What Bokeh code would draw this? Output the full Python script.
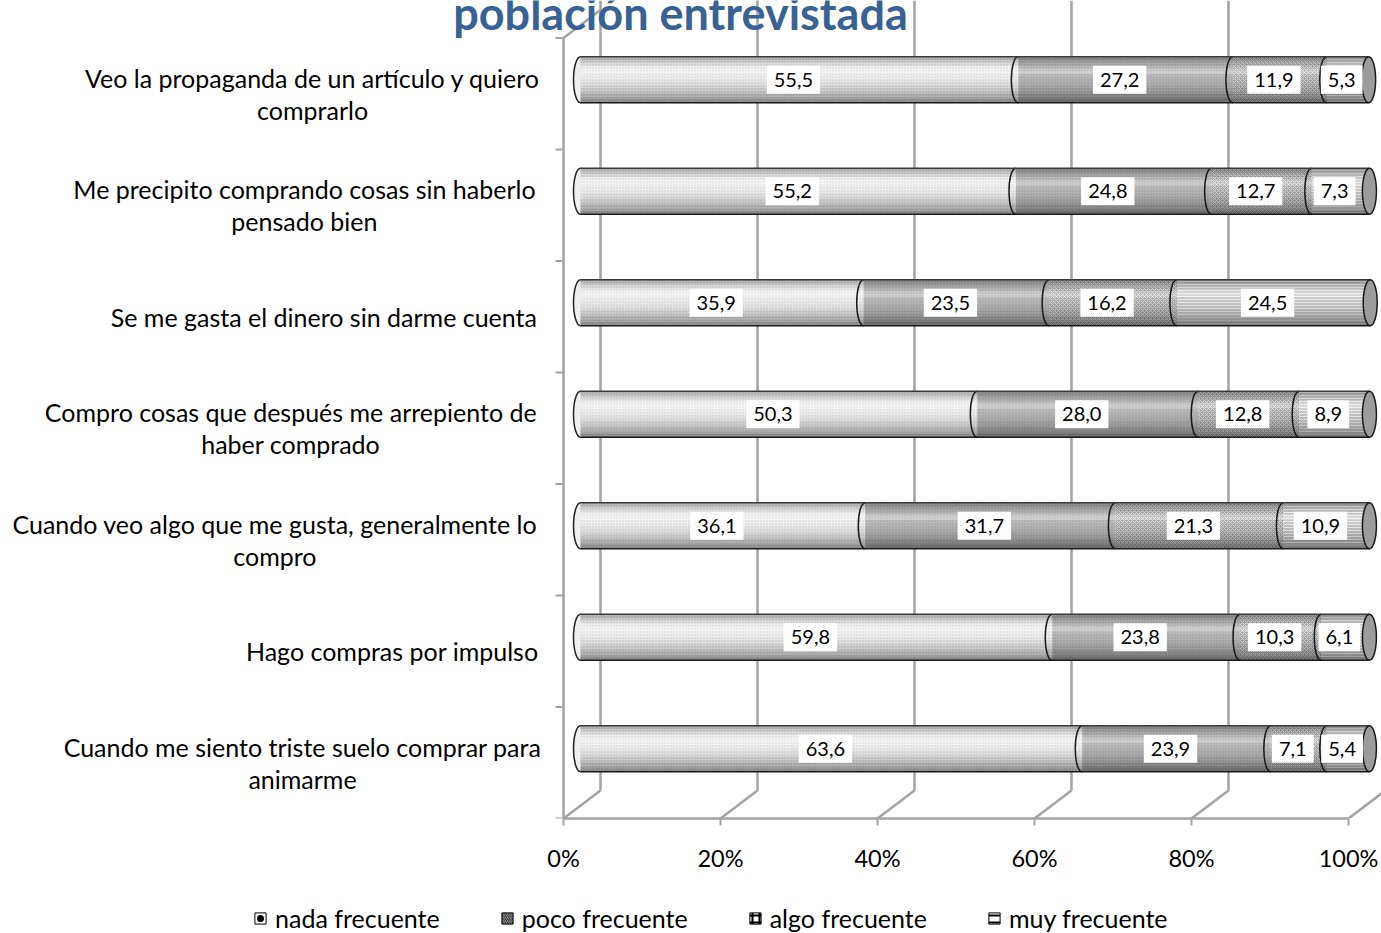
import numpy as np
from bokeh.plotting import figure
from bokeh.layouts import column
from bokeh.models import (Range1d, FixedTicker, PrintfTickFormatter, Legend, LegendItem)
from bokeh.embed import file_html
from bokeh.resources import INLINE
from bokeh.core.properties import value

# ---------------- data ----------------
categories = [
    "Veo la propaganda de un artículo y quiero\ncomprarlo",
    "Me precipito comprando cosas sin haberlo\npensado bien",
    "Se me gasta el dinero sin darme cuenta",
    "Compro cosas que después me arrepiento de\nhaber comprado",
    "Cuando veo algo que me gusta, generalmente lo\ncompro",
    "Hago compras por impulso",
    "Cuando me siento triste suelo comprar para\nanimarme",
]
nada = [55.5, 55.2, 35.9, 50.3, 36.1, 59.8, 63.6]
poco = [27.2, 24.8, 23.5, 28.0, 31.7, 23.8, 23.9]
algo = [11.9, 12.7, 16.2, 12.8, 21.3, 10.3, 7.1]
muy = [5.3, 7.3, 24.5, 8.9, 10.9, 6.1, 5.4]
series_names = ["nada frecuente", "poco frecuente", "algo frecuente", "muy frecuente"]
x_ticks = [0, 20, 40, 60, 80, 100]
title_text = "población entrevistada"

# ---------------- layout / style ----------------
FONT = "Lato"
GRID = "#a3a3a3"
W = 1381
HM, HL = 880, 53            # main figure / legend strip heights
ORIGIN_X = 563              # canvas px of 0 %
AXIS_H = 62                 # x-axis panel height
PX_X, PX_Y = 7.85, 111.5
frame_h = HM - AXIS_H
x_start = -ORIGIN_X / PX_X
x_end = (W - ORIGIN_X) / PX_X
y_end = frame_h / PX_Y
DEPTH_X, DEPTH_Y = 37 / PX_X, 28 / PX_Y
BAR_DX, BAR_DY = 17 / PX_X, 14 / PX_Y
BAR_SCALE = 1.005
BAR_H = 46 / PX_Y
CAP_W = 14
CAT_SIZE = 25


def text_width(s, size):
    """Rough advance width of a string in the label font (em-based classes)."""
    em = 0.0
    for ch in s:
        if ch == " ":
            em += 0.193
        elif ch in "iljtfrí,.":
            em += 0.26
        elif ch in "mwMW":
            em += 0.80
        else:
            em += 0.56
    return em * size


n = len(categories)
centers = [n - 0.5 - i for i in range(n)]
bar_y = np.array([c + BAR_DY for c in centers])

p = figure(width=W, height=HM, x_range=Range1d(x_start, x_end), y_range=Range1d(0, y_end),
           output_backend="svg", toolbar_location=None, y_axis_location=None,
           min_border_left=0, min_border_right=0, min_border_top=0,
           min_border_bottom=AXIS_H)
p.outline_line_color = None
p.grid.visible = False

# 3D walls
bx = [t + DEPTH_X for t in x_ticks]
p.segment(x0=bx, y0=[DEPTH_Y] * len(bx), x1=bx, y1=[y_end] * len(bx),
          line_color=GRID, line_width=2.5)
p.segment(x0=x_ticks, y0=[0] * len(bx), x1=bx, y1=[DEPTH_Y] * len(bx),
          line_color=GRID, line_width=2.5)
p.segment(x0=[0], y0=[n], x1=[DEPTH_X], y1=[n + DEPTH_Y], line_color=GRID, line_width=2.5)

# category axis (front-left edge) with ticks between categories
p.segment(x0=[0], y0=[0], x1=[0], y1=[n], line_color=GRID, line_width=2.5)
bounds = list(range(n + 1))
p.segment(x0=[-8 / PX_X] * len(bounds), y0=bounds, x1=[0] * len(bounds), y1=bounds,
          line_color=GRID, line_width=2)

# category labels: block right-aligned, lines centred
label_right = -26 / PX_X
cat_x = [label_right - max(text_width(s, CAT_SIZE) for s in c.split("\n")) / 2 / PX_X
         for c in categories]
p.text(x=cat_x, y=centers, text=categories, text_align="center", text_baseline="middle",
       text_font=value(FONT), text_font_size=f"{CAT_SIZE}px", text_color="black",
       text_line_height=1.08)

# x axis
xa = p.xaxis[0]
xa.ticker = FixedTicker(ticks=x_ticks)
xa.formatter = PrintfTickFormatter(format="%d%%")
xa.bounds = (0, 100)
xa.axis_line_color = GRID
xa.axis_line_width = 2.5
xa.major_tick_line_color = GRID
xa.major_tick_line_width = 2
xa.major_tick_out = 7
xa.major_tick_in = 0
xa.minor_tick_line_color = None
xa.major_label_text_font = FONT
xa.major_label_text_font_size = "23.5px"
xa.major_label_text_color = "black"
xa.major_label_standoff = 18

# cylinders
series = [nada, poco, algo, muy]
seg_styles = [
    dict(fill_color="#efefef", hatch_pattern=".", hatch_color="#cfcfcf", hatch_scale=3, hatch_weight=1),
    dict(fill_color="#b8b8b8", hatch_pattern=".", hatch_color="#a0a0a0", hatch_scale=3, hatch_weight=1),
    dict(fill_color="#a6a6a6", hatch_pattern="x", hatch_color="#d8d8d8", hatch_scale=4, hatch_weight=1),
    dict(fill_color="#c6c6c6", hatch_pattern="-", hatch_color="#ececec", hatch_scale=3, hatch_weight=1),
]
top = bar_y + BAR_H / 2
bot = bar_y - BAR_H / 2


def bx_(v):
    return BAR_DX + np.asarray(v) * BAR_SCALE


p.ellipse(x=[BAR_DX] * n, y=bar_y, width=CAP_W, height=BAR_H, width_units="screen",
          height_units="data", fill_color="#efefef", line_color="#222222", line_width=1.5)

lefts = np.zeros(n)
label_x, label_y, label_t = [], [], []
boundaries = []
for s, st in zip(series, seg_styles):
    s = np.array(s)
    rights = lefts + s
    p.hbar(y=bar_y, left=bx_(lefts), right=bx_(rights), height=BAR_H,
           line_color=None, **st)
    label_x += list(bx_(lefts + s / 2))
    label_y += list(bar_y)
    label_t += [f"{v:.1f}".replace(".", ",") for v in s]
    boundaries.append(rights.copy())
    lefts = rights
totals = lefts

# shading overlay (cylinder lighting)
NB = 16
sy, sl, sr, sc, sa = [], [], [], [], []
for k in range(NB):
    t = (k + 0.5) / NB
    if t < 0.22:
        c, a = "black", 0.28 * (1 - t / 0.22)
    elif t < 0.42:
        c, a = "white", 0.40 * (1 - abs(t - 0.32) / 0.10)
    else:
        c, a = "black", 0.42 * ((t - 0.42) / 0.58) ** 1.6
    for i in range(n):
        sy.append(top[i] - (k + 0.5) * BAR_H / NB)
        sl.append(BAR_DX)
        sr.append(bx_(totals[i]))
        sc.append(c)
        sa.append(max(a, 0))
p.hbar(y=sy, left=sl, right=sr, height=BAR_H / NB * 1.02, fill_color=sc, fill_alpha=sa,
       line_color=None)

# segment boundaries (elliptic arcs)
kk = 4 / 3 * (CAP_W / 2) / PX_X
for b in boundaries[:-1]:
    xb = bx_(b)
    p.bezier(x0=xb, y0=top, x1=xb, y1=bot, cx0=xb - kk, cy0=top, cx1=xb - kk, cy1=bot,
             line_color="#1a1a1a", line_width=1.5)

p.segment(x0=[BAR_DX] * n, y0=top, x1=bx_(totals), y1=top, line_color="#3a3a3a", line_width=1.5)
p.segment(x0=[BAR_DX] * n, y0=bot, x1=bx_(totals), y1=bot, line_color="#1a1a1a", line_width=1.5)

p.ellipse(x=bx_(totals), y=bar_y, width=CAP_W, height=BAR_H, width_units="screen",
          height_units="data", fill_color="#9c9c9c", line_color="#1a1a1a", line_width=1.5)

# data labels
p.text(x=label_x, y=label_y, text=label_t, x_offset=-6, text_align="center",
       text_baseline="middle", text_font=value(FONT), text_font_size="20px",
       text_color="black", background_fill_color="white", padding=7)

# title (top is cut off, as in the original)
p.text(x=[(680 - ORIGIN_X) / PX_X], y=[(frame_h - 12.5) / PX_Y], text=[title_text],
       text_font=value(FONT), text_font_style="bold", text_font_size="45px",
       text_color="#386294", text_align="center", text_baseline="alphabetic")

# legend strip
pl = figure(width=W, height=HL, x_range=Range1d(0, 1), y_range=Range1d(0, 1),
            output_backend="svg", toolbar_location=None, x_axis_location=None,
            y_axis_location=None, min_border=0)
pl.outline_line_color = None
pl.grid.visible = False
proxy_styles = [
    dict(fill_color="white", hatch_pattern=".", hatch_color="black", hatch_scale=14, hatch_weight=2),
    dict(fill_color="white", hatch_pattern="\\", hatch_color="black", hatch_scale=3.5, hatch_weight=1),
    dict(fill_color="white", hatch_pattern="+", hatch_color="black", hatch_scale=7, hatch_weight=2),
    dict(fill_color="white", hatch_pattern="-", hatch_color="black", hatch_scale=7, hatch_weight=2),
]
items = []
for name, st in zip(series_names, proxy_styles):
    # off-range proxy glyph, only used to draw the legend swatch
    r = pl.hbar(y=[10], right=[10], left=[9], height=1, line_color="black", line_width=1, **st)
    items.append(LegendItem(label=name, renderers=[r]))
legend = Legend(items=items, orientation="horizontal", location=(253, 0),
                glyph_width=14, glyph_height=14, label_standoff=8, spacing=60,
                padding=0, margin=0, border_line_color=None, background_fill_alpha=0,
                label_text_font=FONT, label_text_font_size=f"{CAT_SIZE}px",
                label_text_color="black")
pl.add_layout(legend, "center")

open("out.html", "w").write(file_html(column(p, pl, spacing=0), INLINE))
